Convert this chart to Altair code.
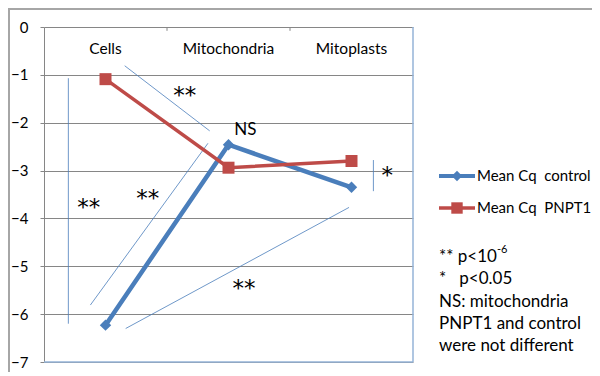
import altair as alt
import pandas as pd

categories = ["Cells", "Mitochondria", "Mitoplasts"]
cat_pos = [0.5, 1.5, 2.5]
control = [-6.23, -2.46, -3.35]
pnpt1 = [-1.09, -2.94, -2.80]

# annotation brackets (data coordinates)
ann_x1 = [0.198, 0.656, 0.377, 0.664, 2.678]
ann_y1 = [-1.07, -0.81, -5.81, -6.30, -2.78]
ann_x2 = [0.198, 1.347, 1.333, 2.480, 2.678]
ann_y2 = [-6.20, -2.17, -2.43, -3.77, -3.43]

star_txt = ["**", "**", "**", "**", "*"]
star_x = [1.145, 0.843, 0.363, 1.625, 2.79]
star_y = [-1.32, -3.46, -3.65, -5.34, -2.99]

ns_txt = ["NS"]
ns_x = [1.637]
ns_y = [-2.15]

legend_labels = ["Mean Cq\u00a0 control", "Mean Cq\u00a0 PNPT1"]
notes = ["** p<10", "*\u00a0\u00a0\u00a0p<0.05", "NS: mitochondria", "PNPT1 and control", "were not different"]

BLUE = "#4a7ebb"
RED = "#be4b48"
GRID = "#868686"
FONT = "Lato"

W, H = 369, 335
xs = alt.Scale(domain=[0, 3], nice=False, zero=False)
ys = alt.Scale(domain=[-7, 0], nice=False, zero=False)

df_c = pd.DataFrame({"x": cat_pos, "y": control, "cat": categories})
df_p = pd.DataFrame({"x": cat_pos, "y": pnpt1, "cat": categories})

base_axis = alt.Axis(values=[0, -1, -2, -3, -4, -5, -6, -7], grid=True, gridColor=GRID,
                     gridWidth=1, domainColor=GRID, tickColor=GRID, tickSize=4,
                     labelPadding=12, labelFont=FONT, labelFontSize=15, labelColor="black",
                     title=None, format="d")

grid = alt.Chart(pd.DataFrame({"x": [0], "y": [0]})).mark_point(opacity=0).encode(
    x=alt.X("x:Q", scale=xs, axis=None),
    y=alt.Y("y:Q", scale=ys, axis=base_axis),
)

# border lines: bottom & right blue, small top ticks
df_border = pd.DataFrame({"x": [0, 3], "y": [-7, -7], "x2": [3, 3], "y2": [-7, 0]})
border = alt.Chart(df_border).mark_rule(color="#95b3d7", strokeWidth=1.5).encode(
    x=alt.X("x:Q", scale=xs), y=alt.Y("y:Q", scale=ys), x2="x2:Q", y2="y2:Q")

df_ticks = pd.DataFrame({"x": [1, 2], "y": [0, 0], "y2": [-0.08, -0.08]})
ticks = alt.Chart(df_ticks).mark_rule(color=GRID, strokeWidth=1).encode(
    x=alt.X("x:Q", scale=xs), y=alt.Y("y:Q", scale=ys), y2="y2:Q")

cat_labels = alt.Chart(pd.DataFrame({"x": cat_pos, "y": [-0.47] * 3, "t": categories})).mark_text(
    font=FONT, fontSize=15.5, color="black", baseline="middle").encode(
    x=alt.X("x:Q", scale=xs), y=alt.Y("y:Q", scale=ys), text="t:N")

df_ann = pd.DataFrame({"x": ann_x1, "y": ann_y1, "x2": ann_x2, "y2": ann_y2})
ann = alt.Chart(df_ann).mark_rule(color=BLUE, strokeWidth=0.8).encode(
    x=alt.X("x:Q", scale=xs), y=alt.Y("y:Q", scale=ys), x2="x2:Q", y2="y2:Q")

line_c = alt.Chart(df_c).mark_line(color=BLUE, strokeWidth=4.5).encode(
    x=alt.X("x:Q", scale=xs), y=alt.Y("y:Q", scale=ys))
pt_c = alt.Chart(df_c).mark_point(shape="diamond", filled=True, color=BLUE, size=130, opacity=1).encode(
    x=alt.X("x:Q", scale=xs), y=alt.Y("y:Q", scale=ys))
line_p = alt.Chart(df_p).mark_line(color=RED, strokeWidth=3.5).encode(
    x=alt.X("x:Q", scale=xs), y=alt.Y("y:Q", scale=ys))
pt_p = alt.Chart(df_p).mark_point(shape="square", filled=True, color=RED, size=144, opacity=1).encode(
    x=alt.X("x:Q", scale=xs), y=alt.Y("y:Q", scale=ys))

stars = alt.Chart(pd.DataFrame({"x": star_x, "y": star_y, "t": star_txt})).mark_text(
    font="DejaVu Sans", fontSize=23, color="black", baseline="middle", dy=6).encode(
    x=alt.X("x:Q", scale=xs), y=alt.Y("y:Q", scale=ys), text="t:N")

ns = alt.Chart(pd.DataFrame({"x": ns_x, "y": ns_y, "t": ns_txt})).mark_text(
    font=FONT, fontSize=17, color="black", baseline="middle").encode(
    x=alt.X("x:Q", scale=xs), y=alt.Y("y:Q", scale=ys), text="t:N")

# custom legend (pixel positions relative to plot origin)
leg_y = [149, 181]
leg_col = [BLUE, RED]
leg_layers = []
for i in range(2):
    d = pd.DataFrame({"t": [legend_labels[i]]})
    leg_layers.append(alt.Chart(d).mark_rule(color=leg_col[i], strokeWidth=4 if i == 0 else 3.5).encode(
        x=alt.value(395), x2=alt.value(431), y=alt.value(leg_y[i])))
    leg_layers.append(alt.Chart(d).mark_point(shape="diamond" if i == 0 else "square", filled=True,
                                              color=leg_col[i], size=110 if i == 0 else 130, opacity=1).encode(
        x=alt.value(413), y=alt.value(leg_y[i])))
    leg_layers.append(alt.Chart(d).mark_text(font=FONT, fontSize=15, color="black", align="left",
                                             baseline="middle").encode(
        x=alt.value(433), y=alt.value(leg_y[i]), text="t:N"))

note_y = [230, 251.5, 274.5, 297, 318.5]
for t, yy in zip(notes, note_y):
    leg_layers.append(alt.Chart(pd.DataFrame({"t": [t]})).mark_text(
        font=FONT, fontSize=17, color="black", align="left", baseline="middle").encode(
        x=alt.value(395), y=alt.value(yy), text="t:N"))
leg_layers.append(alt.Chart(pd.DataFrame({"t": ["-6"]})).mark_text(
    font=FONT, fontSize=11, color="black", align="left", baseline="middle").encode(
    x=alt.value(453), y=alt.value(223), text="t:N"))

frame = alt.Chart(pd.DataFrame({"a": [0]})).mark_rect(fill=None, stroke="#a6a6a6", strokeWidth=2).encode(
    x=alt.value(-35), y=alt.value(-18), x2=alt.value(600), y2=alt.value(400))

chart = alt.layer(frame, grid, border, ticks, cat_labels, ann, line_c, pt_c, line_p, pt_p, stars, ns,
                  *leg_layers).properties(
    width=W, height=H,
    padding={"left": 36, "top": 19, "right": 179, "bottom": 10},
    autosize=alt.AutoSizeParams(type="none"),
    background="white",
).configure_view(stroke=None)

chart.save("out.html", embed_options={"renderer": "svg", "actions": False})
